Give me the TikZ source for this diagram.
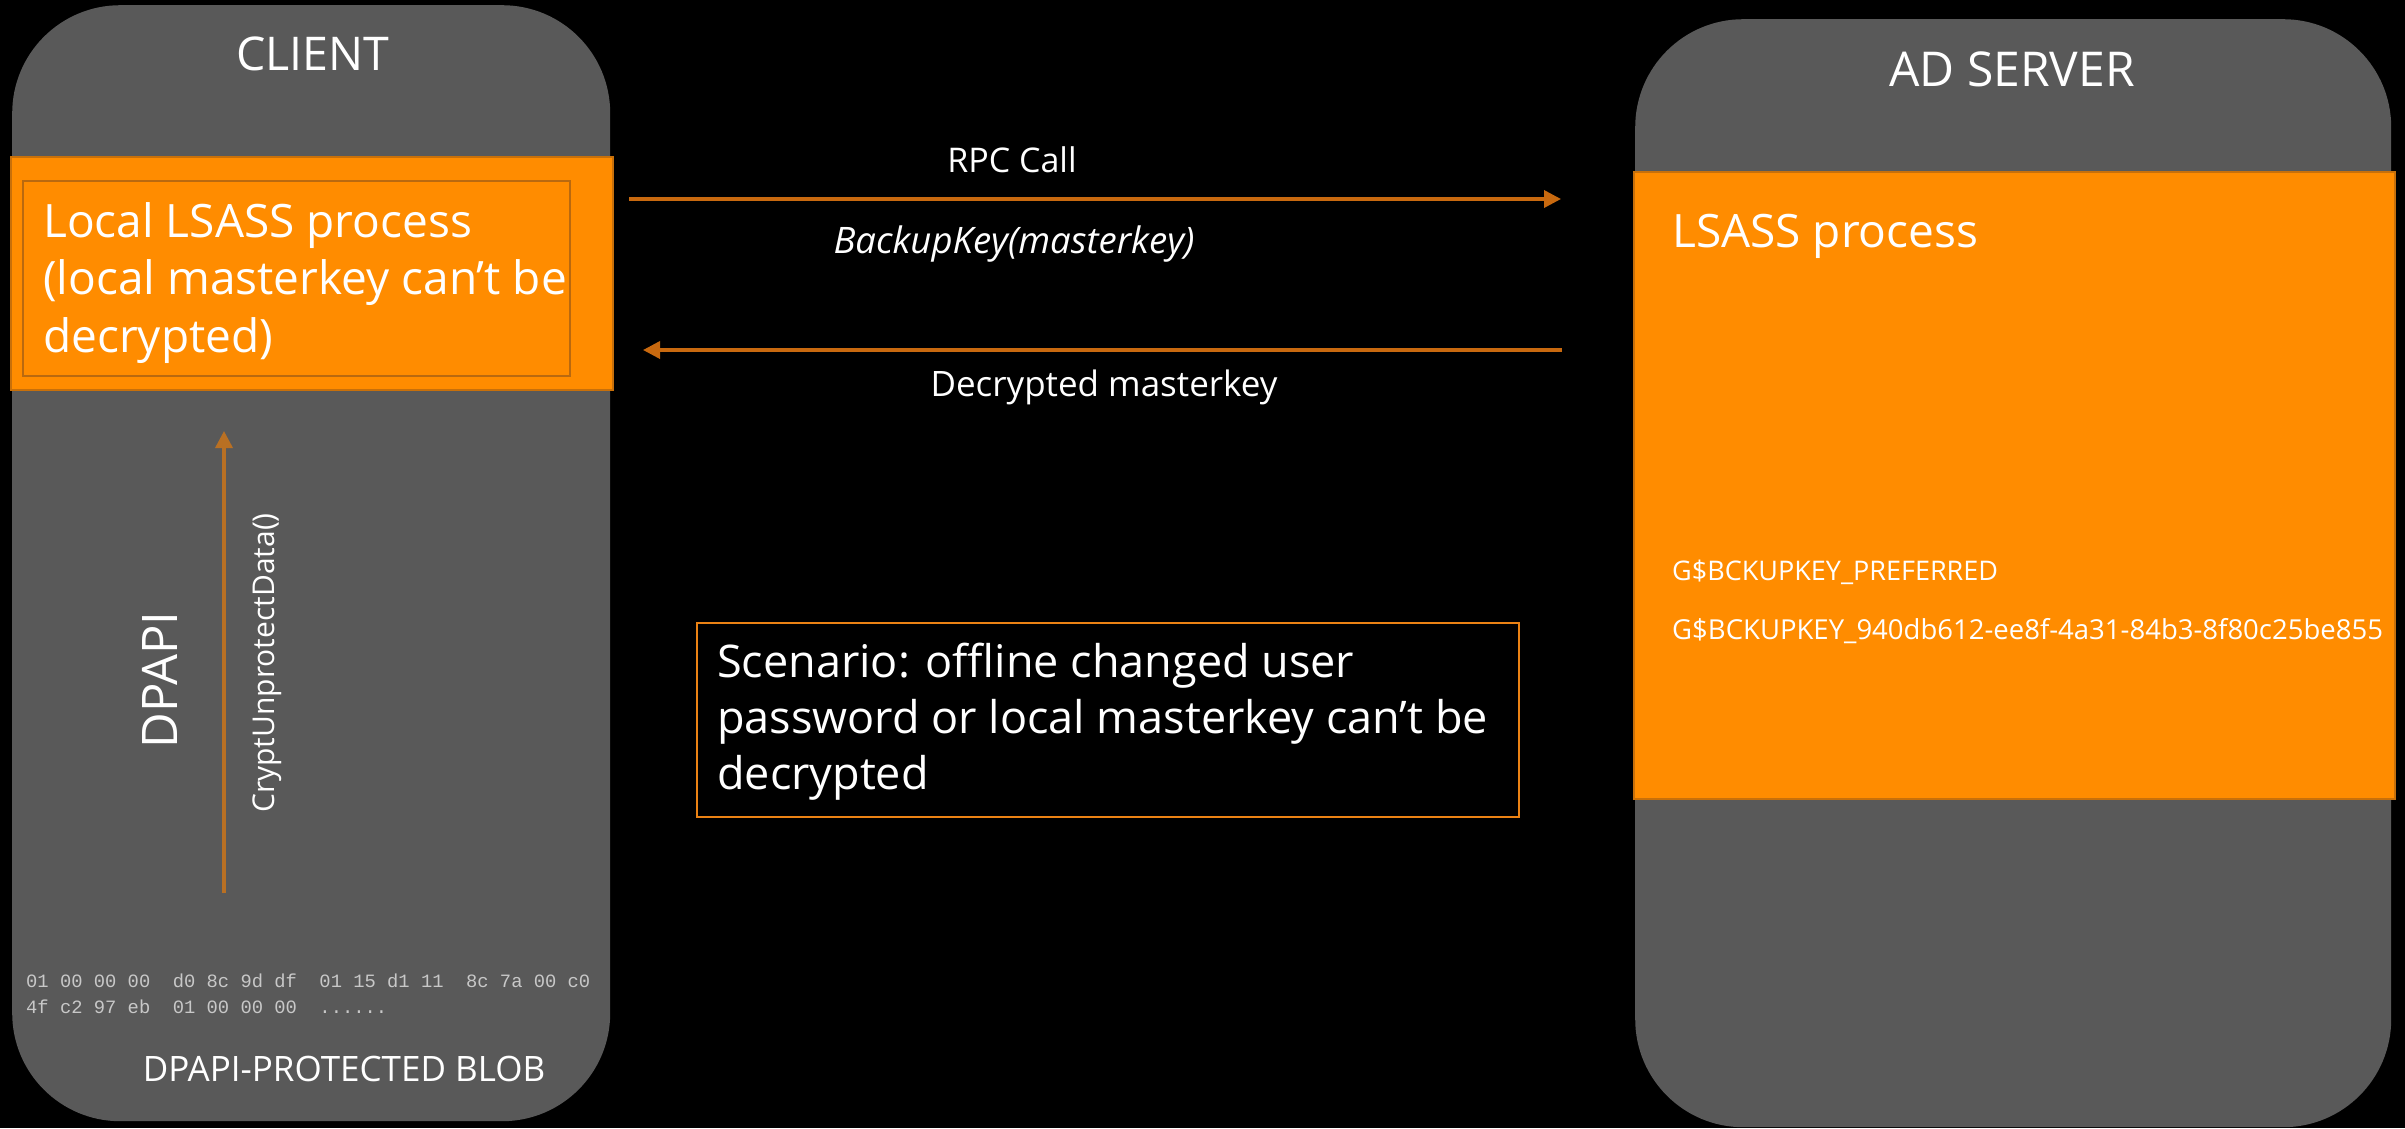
\documentclass[tikz,border=0pt]{standalone}
\usepackage{fontspec}
\setmainfont{Open Sans}
\setmonofont{Liberation Mono}
\usetikzlibrary{arrows.meta}
\definecolor{panel}{RGB}{89,89,89}
\definecolor{orng}{RGB}{255,140,0}
\definecolor{orngdk}{RGB}{200,112,10}
\definecolor{innerc}{RGB}{185,105,15}
\definecolor{harrc}{RGB}{200,105,15}
\definecolor{varrc}{RGB}{185,112,35}
\definecolor{hexc}{RGB}{200,200,200}
\definecolor{scenc}{RGB}{235,130,20}
\newcommand{\fs}[2]{\fontsize{#1}{#2}\selectfont}
\begin{document}
\begin{tikzpicture}[x=1pt,y=-1pt,
  panelbox/.style={fill=panel, draw=none, rounded corners=108pt, inner sep=0pt, anchor=north west},
  bandbox/.style={fill=orng, draw=orngdk, line width=2pt, inner sep=0pt, anchor=north west},
  wtext/.style={text=white, inner sep=0pt},
  harrow/.style={draw=harrc, line width=3.5pt, -{Triangle[length=17pt,width=17pt]}},
  varrow/.style={draw=varrc, line width=3.5pt, -{Triangle[length=17pt,width=17pt]}}
]
\fill[black] (0,0) rectangle (2405,1128);
\useasboundingbox (0,0) rectangle (2405,1128);

% ---------------- client ----------------
\node[panelbox, minimum width=598pt, minimum height=1116pt] (client) at (12,5) {};
\node[bandbox, minimum width=602pt, minimum height=233pt] (cband) at (10,156) {};
\node[draw=innerc, line width=2pt, inner sep=0pt, anchor=north west,
      minimum width=547pt, minimum height=195pt] (cinner) at (22,180) {};
\node[wtext, anchor=base, font=\fs{46.5}{46.5}] (clienttitle) at (313,70) {CLIENT};
% base anchor of a multi-line node = baseline of its last line
\node[wtext, anchor=base west, align=left, font=\fs{46}{57.5}] (clsass) at (43,352)
  {Local LSASS process\\(local masterkey can’t be\\decrypted)};

\coordinate (blobtop) at (224,893);
\coordinate (lsassbot) at (224,431);
\draw[varrow] (blobtop) -- (lsassbot);
\node[wtext, rotate=90, anchor=base, font=\fs{49}{49}] (dpapi) at (177,680) {DPAPI};
\node[wtext, rotate=90, anchor=base, font=\fs{30}{30}] (crypt) at (274,663) {CryptUnprotectData()};

\node[inner sep=0pt, anchor=base west, align=left, text=hexc, font=\ttfamily\fs{18.8}{26}] (hex) at (26,1013)
  {01~00~00~00~~d0~8c~9d~df~~01~15~d1~11~~8c~7a~00~c0\\4f~c2~97~eb~~01~00~00~00~~......};
\node[wtext, anchor=base, font=\fs{35}{35}] (blob) at (344,1081) {DPAPI-PROTECTED BLOB};

% ---------------- server ----------------
\node[panelbox, minimum width=756pt, minimum height=1108pt] (server) at (1635,19) {};
\node[bandbox, minimum width=761pt, minimum height=627pt] (sband) at (1633,171) {};
\node[wtext, anchor=base, font=\fs{48}{48}] (servertitle) at (2012,86) {AD SERVER};
\node[wtext, anchor=base west, font=\fs{46}{46}] (slsass) at (1672,247) {LSASS process};
\node[wtext, anchor=base west, font=\fs{27}{27}] (key1) at (1672,580) {G\$BCKUPKEY\_PREFERRED};
\node[wtext, anchor=base west, font=\fs{27.5}{27.5}] (key2) at (1672,639) {G\$BCKUPKEY\_940db612-ee8f-4a31-84b3-8f80c25be855};

% ---------------- messages ----------------
\coordinate (rpcA) at (629,199);
\coordinate (rpcB) at (1561,199);
\draw[harrow] (rpcA) -- (rpcB);
\coordinate (retA) at (1562,350);
\coordinate (retB) at (643,350);
\draw[harrow] (retA) -- (retB);
\node[wtext, anchor=base, font=\fs{34}{34}] (rpc) at (1012,172) {RPC Call};
\node[wtext, anchor=base, font=\itshape\fs{36.5}{36.5}] (bk) at (1014,253) {BackupKey(masterkey)};
\node[wtext, anchor=base, font=\fs{35}{35}] (dm) at (1104,396) {Decrypted masterkey};

% ---------------- scenario ----------------
\node[draw=scenc, line width=2pt, fill=black, inner sep=0pt, anchor=north west,
      minimum width=822pt, minimum height=194pt] (scenbox) at (696,622) {};
\node[wtext, anchor=base west, align=left, font=\fs{45}{56}] (scen) at (717,789)
  {Scenario: offline changed user\\password or local masterkey can’t be\\decrypted};
\end{tikzpicture}
\end{document}
